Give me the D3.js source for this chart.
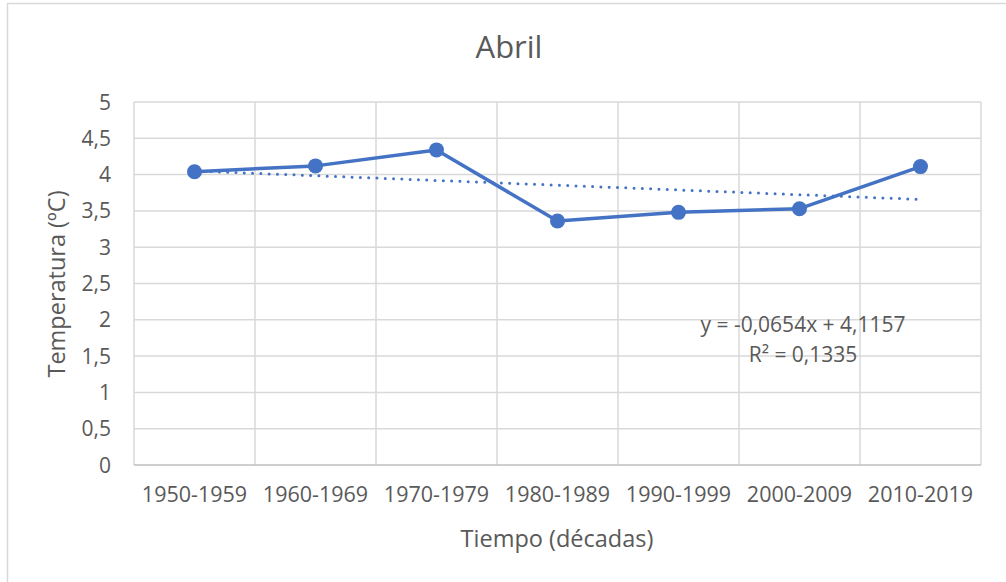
<!DOCTYPE html>
<html>
<head>
<meta charset="utf-8">
<script src="https://cdn.jsdelivr.net/npm/d3@7"></script>
<style>
  html, body { margin: 0; padding: 0; background: #fff; }
  svg { display: block; font-family: 'Open Sans', sans-serif; }
</style>
</head>
<body>
<svg id="chart" width="1006" height="582"></svg>
<script>
// Data
const decades = ['1950-1959', '1960-1969', '1970-1979', '1980-1989', '1990-1999', '2000-2009', '2010-2019'];
const temperatures = [4.04, 4.12, 4.34, 3.36, 3.48, 3.53, 4.11];
const y_ticks = [0, 0.5, 1, 1.5, 2, 2.5, 3, 3.5, 4, 4.5, 5];
// Linear trendline as printed on the chart
const trend_slope = -0.0654;
const trend_intercept = 4.1157;
const trend_label = ['y = -0,0654x + 4,1157', 'R² = 0,1335'];

const blue = '#4472C4';
const text_color = '#595959';
const grid_color = '#D9D9D9';

const plot = { left: 134, right: 981, top: 102, bottom: 465 };

const svg = d3.select('#chart');

// Outer chart frame (only left and top edges are in view)
svg.append('rect')
  .attr('x', 7.5).attr('y', 3.5)
  .attr('width', 1020).attr('height', 620)
  .attr('fill', 'none')
  .attr('stroke', grid_color)
  .attr('stroke-width', 1.5);

const x = d3.scaleBand()
  .domain(decades)
  .range([plot.left, plot.right])
  .padding(0);

const y = d3.scaleLinear()
  .domain([0, 5])
  .range([plot.bottom, plot.top]);

const cx = d => x(d) + x.bandwidth() / 2;

// Horizontal gridlines
svg.append('g')
  .selectAll('line')
  .data(y_ticks.filter(t => t > 0))
  .join('line')
  .attr('x1', plot.left).attr('x2', plot.right)
  .attr('y1', d => y(d)).attr('y2', d => y(d))
  .attr('stroke', grid_color)
  .attr('stroke-width', 1.5);

// Vertical gridlines at category boundaries
const boundaries = decades.map(d => x(d)).concat([plot.right]);
svg.append('g')
  .selectAll('line')
  .data(boundaries)
  .join('line')
  .attr('x1', d => d).attr('x2', d => d)
  .attr('y1', plot.top).attr('y2', plot.bottom)
  .attr('stroke', grid_color)
  .attr('stroke-width', 1.5);

// Category axis line
svg.append('line')
  .attr('x1', plot.left).attr('x2', plot.right)
  .attr('y1', plot.bottom).attr('y2', plot.bottom)
  .attr('stroke', '#BFBFBF')
  .attr('stroke-width', 1.5);

// Y tick labels
svg.append('g')
  .selectAll('text')
  .data(y_ticks)
  .join('text')
  .attr('x', 111)
  .attr('y', d => y(d))
  .attr('dy', '0.36em')
  .attr('text-anchor', 'end')
  .attr('font-size', '21px')
  .attr('fill', text_color)
  .text(d => String(d).replace('.', ','));

// X tick labels
svg.append('g')
  .selectAll('text')
  .data(decades)
  .join('text')
  .attr('x', d => cx(d))
  .attr('y', 502)
  .attr('text-anchor', 'middle')
  .attr('font-size', '21.5px')
  .attr('fill', text_color)
  .text(d => d);

// Titles
svg.append('text')
  .attr('x', 509).attr('y', 58)
  .attr('text-anchor', 'middle')
  .attr('font-size', '31px')
  .attr('fill', text_color)
  .text('Abril');

svg.append('text')
  .attr('x', 557).attr('y', 547)
  .attr('text-anchor', 'middle')
  .attr('font-size', '23.5px')
  .attr('fill', text_color)
  .text('Tiempo (décadas)');

svg.append('text')
  .attr('transform', 'translate(65,284) rotate(-90)')
  .attr('text-anchor', 'middle')
  .attr('font-size', '23.5px')
  .attr('fill', text_color)
  .text('Temperatura (ºC)');

// Trendline (dotted), x = 1..n
const trend_pts = [1, decades.length].map(i => [cx(decades[i - 1]), y(trend_slope * i + trend_intercept)]);
svg.append('path')
  .attr('d', d3.line()(trend_pts))
  .attr('fill', 'none')
  .attr('stroke', blue)
  .attr('stroke-width', 3)
  .attr('stroke-linecap', 'round')
  .attr('stroke-dasharray', '0 8.3');

// Series line
const series_line = d3.line()
  .x((d, i) => cx(decades[i]))
  .y(d => y(d));

svg.append('path')
  .attr('d', series_line(temperatures))
  .attr('fill', 'none')
  .attr('stroke', blue)
  .attr('stroke-width', 3.5)
  .attr('stroke-linejoin', 'round');

svg.append('g')
  .selectAll('circle')
  .data(temperatures)
  .join('circle')
  .attr('cx', (d, i) => cx(decades[i]))
  .attr('cy', d => y(d))
  .attr('r', 7.5)
  .attr('fill', blue);

// Trendline equation
svg.append('g')
  .selectAll('text')
  .data(trend_label)
  .join('text')
  .attr('x', 803)
  .attr('y', (d, i) => 332 + i * 30)
  .attr('text-anchor', 'middle')
  .attr('font-size', '21px')
  .attr('fill', text_color)
  .text(d => d);
</script>
</body>
</html>
